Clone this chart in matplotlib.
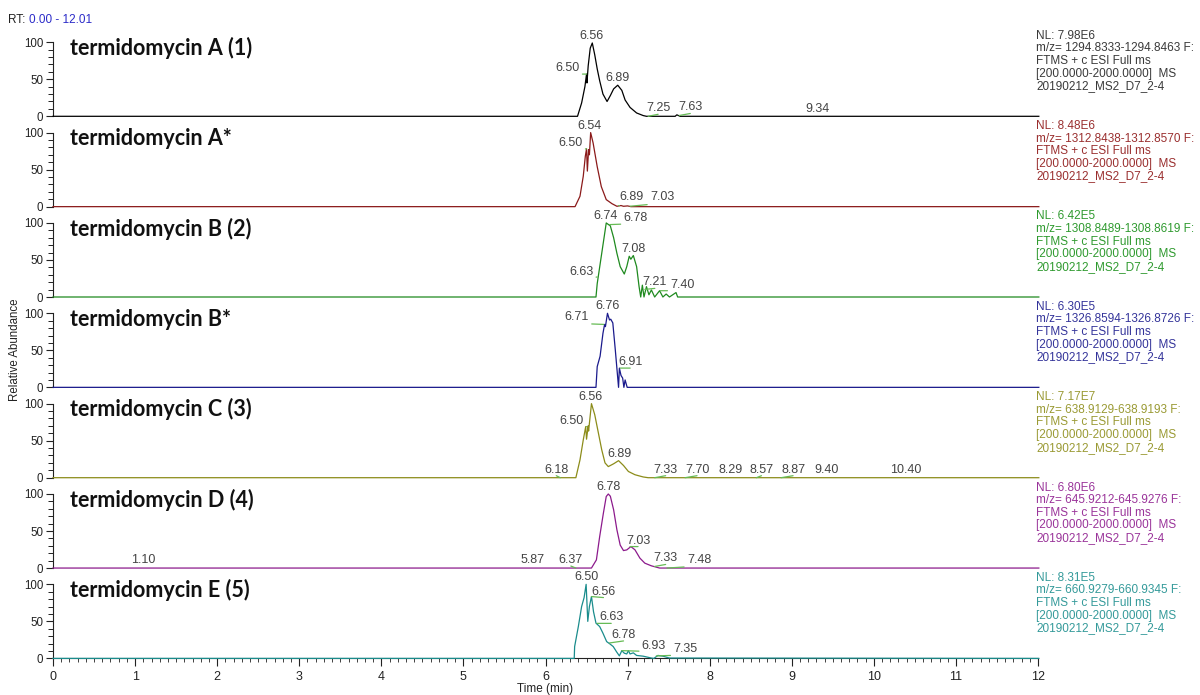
import numpy as np
import matplotlib
matplotlib.use("Agg")
import matplotlib.pyplot as plt
from matplotlib.ticker import MultipleLocator, FixedLocator

plt.rcParams['font.family'] = ['Liberation Sans', 'DejaVu Sans']

# ---------------- data ----------------
compounds = ["termidomycin A (1)", "termidomycin A*", "termidomycin B (2)",
             "termidomycin B*", "termidomycin C (3)", "termidomycin D (4)",
             "termidomycin E (5)"]
nl_values = ["7.98E6", "8.48E6", "6.42E5", "6.30E5", "7.17E7", "6.80E6", "8.31E5"]
mz_ranges = ["1294.8333-1294.8463", "1312.8438-1312.8570", "1308.8489-1308.8619",
             "1326.8594-1326.8726", "638.9129-638.9193", "645.9212-645.9276",
             "660.9279-660.9345"]
scan_filter = "FTMS + c ESI Full ms"
mass_range = "[200.0000-2000.0000]  MS"
file_name = "20190212_MS2_D7_2-4"
rt_range = "0.00 - 12.01"
x_ticks = [0, 1, 2, 3, 4, 5, 6, 7, 8, 9, 10, 11, 12]

t_A = [0, 6.39, 6.44, 6.48, 6.50, 6.505, 6.52, 6.545, 6.57, 6.60, 6.63, 6.66, 6.70,
       6.75, 6.79, 6.83, 6.88, 6.93, 6.97, 7.03, 7.11, 7.19, 7.23, 7.58, 7.60, 7.62,
       7.64, 12.01]
v_A = [0, 0, 18, 40, 57, 45, 68, 92, 99, 83, 64, 48, 30,
       20, 28, 37, 42, 35, 22, 12, 4.5, 1, 0, 0, 2, 1,
       0, 0]

t_As = [0, 6.36, 6.42, 6.46, 6.485, 6.50, 6.51, 6.525, 6.535, 6.55, 6.58, 6.63, 6.68,
        6.74, 6.81, 6.87, 6.92, 6.95, 7.00, 7.04, 12.01]
v_As = [0, 0, 14, 41, 68, 78, 48, 77, 70, 100, 86, 54, 27,
        9.5, 4, 0.5, 1.5, 0.5, 1, 0, 0]

t_B = [0, 6.615, 6.63, 6.685, 6.74, 6.79, 6.83, 6.87, 6.91, 6.96, 6.99, 7.02, 7.04,
       7.07, 7.11, 7.14, 7.16, 7.18, 7.20, 7.23, 7.26, 7.29, 7.33, 7.39, 7.43, 7.47,
       7.51, 7.59, 7.61, 12.01]
v_B = [0, 0, 18, 59, 100, 96, 80, 59, 41, 31, 41, 55, 51,
       56, 41, 14, 0, 16, 0, 14, 3, 9.5, 0, 8.5, 0, 4,
       0, 6, 0, 0]

t_Bs = [0, 6.615, 6.63, 6.665, 6.70, 6.72, 6.73, 6.755, 6.78, 6.795, 6.82, 6.85,
        6.875, 6.89, 6.90, 6.92, 6.94, 6.955, 6.97, 6.995, 12.01]
v_Bs = [0, 0, 28, 42, 73, 85, 82, 100, 91, 92, 87, 51,
        19, 0, 26, 16, 12.5, 0, 10, 0, 0]

t_C = [0, 6.37, 6.42, 6.46, 6.49, 6.50, 6.52, 6.525, 6.56, 6.60, 6.645, 6.685, 6.725,
       6.765, 6.83, 6.89, 6.95, 7.01, 7.09, 7.19, 7.25, 12.01]
v_C = [0, 0, 24, 51, 69, 52, 70, 63, 100, 85, 60, 37.7, 20,
       15, 18.8, 23, 16.5, 8.4, 4, 1, 0, 0]

t_D = [0, 6.56, 6.62, 6.66, 6.705, 6.74, 6.765, 6.79, 6.83, 6.87, 6.91, 6.95, 6.99,
       7.04, 7.09, 7.15, 7.21, 7.29, 7.39, 12.01]
v_D = [0, 0, 11, 42.5, 74, 96.6, 100, 97, 78.6, 51.6, 31, 23.6, 24.5,
       29, 24.6, 13.4, 6.6, 3, 0, 0]

t_E = [0, 6.35, 6.355, 6.40, 6.44, 6.47, 6.495, 6.515, 6.535, 6.56, 6.585, 6.615,
       6.66, 6.70, 6.745, 6.785, 6.825, 6.865, 6.90, 6.93, 6.96, 6.99, 7.01, 7.03,
       7.07, 7.11, 7.19, 7.29, 7.32, 7.37, 7.43, 7.51, 12.01]
v_E = [0, 0, 16, 43, 70, 82, 100, 50, 70, 83.5, 63, 47.6,
       43, 34, 22.7, 19.5, 16, 9, 3.4, 10.5, 7, 6, 10.5, 6,
       7.5, 4, 3, 0.5, 0, 4, 3, 0.5, 0]

peaks_A = [6.56, 6.50, 6.89, 7.25, 7.63, 9.34]
peaks_As = [6.54, 6.50, 6.89, 7.03]
peaks_B = [6.74, 6.78, 7.08, 6.63, 7.21, 7.40]
peaks_Bs = [6.76, 6.71, 6.91]
peaks_C = [6.56, 6.50, 6.89, 6.18, 7.33, 7.70, 8.29, 8.57, 8.87, 9.40, 10.40]
peaks_D = [6.78, 7.03, 7.33, 7.48, 5.87, 6.37, 1.10]
peaks_E = [6.50, 6.56, 6.63, 6.78, 6.93, 7.35]

traces = [(t_A, v_A), (t_As, v_As), (t_B, v_B), (t_Bs, v_Bs),
          (t_C, v_C), (t_D, v_D), (t_E, v_E)]
peak_lists = [peaks_A, peaks_As, peaks_B, peaks_Bs, peaks_C, peaks_D, peaks_E]

# ---------------- styling / layout ----------------
trace_colors = ["#000000", "#8b1a1a", "#1f8a1f", "#1a1a8c", "#8c8c1a", "#8c1a8c", "#1a8c8c"]
text_colors = ["#3a3a3a", "#9a2f2f", "#2f9a2f", "#34349a", "#9a9a34", "#9a349a", "#349a9a"]
leader_color = "#66bb55"

# pixel offsets (dx, dy) of each peak label from the apex it refers to
label_offsets = [
    [(0, 4), (-19, 3), (-1, 4), (10, 5), (11, 5), (-2, 4)],
    [(0, 4), (-16, 3), (13, 6), (32, 6)],
    [(-1, 4), (26, 4), (-1, 4), (-16, 2), (10, 4), (22, 3)],
    [(0, 4), (-27, 4), (10, 3)],
    [(-1, 4), (-15, 3), (1, 4), (-4, 5), (11, 5), (12, 5), (-3, 5), (5, 5), (12, 5),
     (2, 5), (-1, 5)],
    [(-1, 4), (8, 3), (11, 5), (32, 5), (-2, 5), (-5, 5), (0, 5)],
    [(0, 4), (12, 2), (14, 3), (14, 5), (32, 2), (29, 4)],
]

W, H = 1200, 695
fig = plt.figure(figsize=(W / 100, H / 100), dpi=100)

x0_px, x1_px = 53, 1038
base0, pitch = 116.3, 90.35
ymax = 122.0

for i in range(7):
    base = base0 + pitch * i
    ax = fig.add_axes([x0_px / W, 1 - base / H, (x1_px - x0_px) / W, pitch / H])
    t, v = traces[i]
    ax.plot(t, v, color=trace_colors[i], lw=0.9, solid_joinstyle='round', zorder=3,
            clip_on=False)
    ax.set_xlim(0, 12.0)
    ax.set_ylim(0, ymax)
    for s in ['top', 'right']:
        ax.spines[s].set_visible(False)
    ax.spines['left'].set_bounds(0, 100)
    ax.spines['left'].set_linewidth(0.8)
    ax.spines['left'].set_color('#222222')
    ax.yaxis.set_major_locator(FixedLocator([0, 50, 100]))
    ax.yaxis.set_minor_locator(FixedLocator([10, 20, 30, 40, 60, 70, 80, 90]))
    ax.tick_params(axis='y', which='major', length=5, width=0.8, direction='out',
                   labelsize=8.3, pad=2, colors='#222222')
    ax.tick_params(axis='y', which='minor', length=3.5, width=0.7, direction='out',
                   colors='#222222')
    if i < 6:
        ax.spines['bottom'].set_visible(False)
        ax.set_xticks([])
    else:
        ax.spines['bottom'].set_color('#222222')
        ax.spines['bottom'].set_linewidth(0.8)
        ax.set_xticks(x_ticks)
        ax.xaxis.set_minor_locator(MultipleLocator(0.1))
        ax.tick_params(axis='x', which='major', length=6, width=0.8, direction='out',
                       labelsize=9, pad=3, colors='#222222')
        ax.tick_params(axis='x', which='minor', length=3, width=0.6, direction='out',
                       colors='#222222')
    ax.patch.set_visible(False)

    # title
    ax.text(0.0175, 61.3 / pitch, compounds[i], transform=ax.transAxes,
            fontsize=15.5, fontweight='bold', family='Lato', color='#111111',
            va='baseline', ha='left')

    # peak labels
    tt = np.asarray(t, dtype=float)
    vv = np.asarray(v, dtype=float)
    for rt, (dx, dy) in zip(peak_lists[i], label_offsets[i]):
        grid = np.linspace(rt - 0.012, rt + 0.012, 25)
        apex = float(np.max(np.interp(grid, tt, vv)))
        arrow = None
        if abs(dx) >= 4:
            arrow = dict(arrowstyle='-', color=leader_color, lw=0.9,
                         shrinkA=0, shrinkB=0, relpos=(0.5, 0.0))
        ax.annotate(f"{rt:.2f}", xy=(rt, apex), xytext=(dx, dy),
                    textcoords='offset pixels', ha='center', va='baseline',
                    fontsize=9, color='#444444', arrowprops=arrow,
                    annotation_clip=False, zorder=4)

    # right-hand info block
    lines = [f"NL: {nl_values[i]}", f"m/z= {mz_ranges[i]} F:", scan_filter,
             mass_range, file_name]
    for k, line in enumerate(lines):
        ypx = base - 80.5 + 12.6 * k
        fig.text(1036 / W, 1 - ypx / H, line, fontsize=8.5, color=text_colors[i],
                 va='center', ha='left')

fig.text(8 / W, 1 - 20 / H, "RT:", fontsize=8.5, color='#222222', va='center', ha='left')
fig.text(29 / W, 1 - 20 / H, rt_range, fontsize=8.5, color='#2b2bc8', va='center', ha='left')
fig.text(15 / W, 1 - 350 / H, "Relative Abundance", rotation=90, fontsize=8.3,
         color='#222222', va='center', ha='center')
fig.text(545 / W, 1 - 689 / H, "Time (min)", fontsize=8.5, color='#222222',
         va='center', ha='center')

fig.savefig("out.png", dpi=100)
